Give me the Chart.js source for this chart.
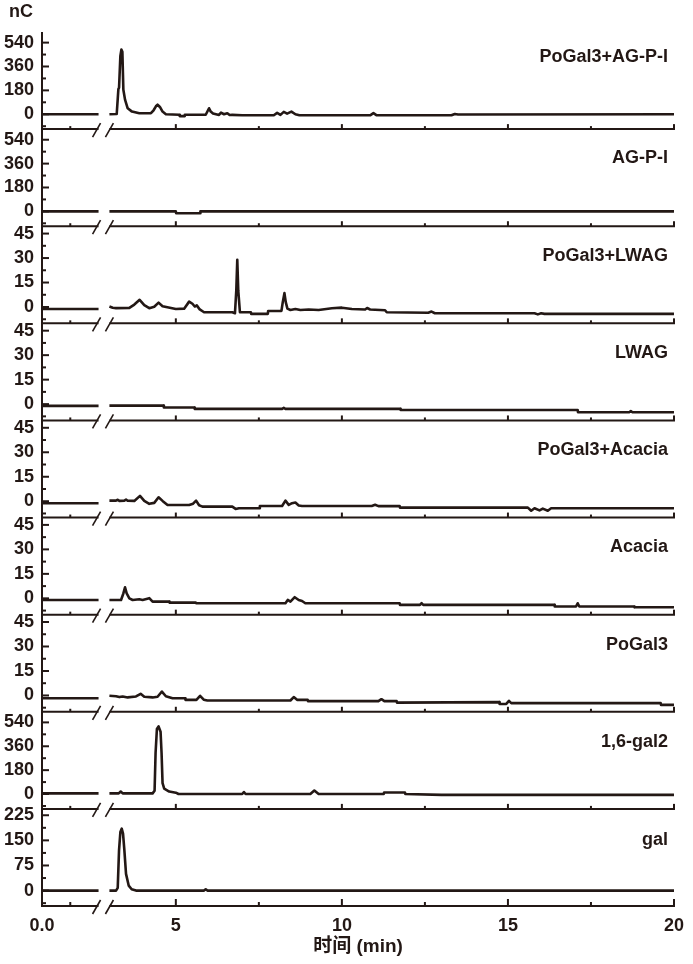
<!DOCTYPE html>
<html>
<head>
<meta charset="utf-8">
<script src="https://cdn.jsdelivr.net/npm/chart.js@4.4.1/dist/chart.umd.min.js"></script>
<style>
  html, body { margin: 0; padding: 0; background: #fff; }
  #wrap { width: 693px; height: 964px; }
</style>
</head>
<body>
<div id="wrap"><canvas id="myChart"></canvas></div>
<script>
// panels, top to bottom
const panelLabels = ['PoGal3+AG-P-I', 'AG-P-I', 'PoGal3+LWAG', 'LWAG', 'PoGal3+Acacia', 'Acacia', 'PoGal3', '1,6-gal2', 'gal'];

// trace level before the axis break (0 - 2 min)
const preBreak = [0, 0, -1.2, -1.1, -1.2, -1, -1.7, 5, 0];

// traces after the break (3 - 20 min): time (min) / signal (nC)
const tMixAGPI = [3.0, 3.22, 3.27, 3.29, 3.33, 3.36, 3.39, 3.42, 3.47, 3.55, 3.68, 3.9, 4.25, 4.33, 4.4, 4.45, 4.52, 4.6, 4.7, 5.1, 5.12, 5.25, 5.27, 5.9, 6.0, 6.05, 6.12, 6.3, 6.36, 6.45, 6.55, 6.62, 6.7, 7.0, 7.95, 8.05, 8.15, 8.25, 8.35, 8.48, 8.6, 8.72, 9.0, 10.85, 10.95, 11.05, 13.3, 13.4, 13.5, 20];
const vMixAGPI = [0, 2, 190, 200, 440, 487, 470, 185, 110, 45, 20, 8, 8, 30, 60, 72, 55, 20, 0, -4, -14, -14, -4, -4, 45, 20, 5, -5, 12, 0, 8, -6, -5, -8, -8, 10, -5, 18, 5, 20, 0, -8, -8, -8, 8, -8, -8, 2, -2, 0];

const tAGPI = [3.0, 5.0, 5.01, 5.73, 5.74, 20];
const vAGPI = [0, 0, -14, -14, 0, 0];

const tMixLWAG = [3.0, 3.1, 3.2, 3.6, 3.75, 3.91, 4.05, 4.2, 4.35, 4.48, 4.6, 5.0, 5.25, 5.4, 5.5, 5.57, 5.63, 5.72, 5.85, 6.7, 6.78, 6.82, 6.85, 6.88, 6.93, 7.26, 7.27, 7.77, 7.78, 8.18, 8.22, 8.27, 8.31, 8.36, 8.45, 8.6, 8.75, 9.0, 9.3, 9.7, 10.0, 10.3, 10.7, 10.76, 10.85, 11.3, 11.35, 12.6, 12.7, 12.8, 15.8, 15.9, 16.0, 16.1, 20];
const vMixLWAG = [0.3, -0.5, -0.7, -0.5, 1.5, 4.4, 1.2, -0.7, 0.2, 2.7, 0.5, -1.2, -1.0, 3.3, 2.0, 0.3, 1.0, -1.5, -3.2, -3.2, -3.8, 10, 28.9, 10, -3.2, -3.2, -4.2, -4.2, -2.4, -2.4, 3, 8.5, 3, -1, -1.8, -1.2, -1.8, -1.5, -1.8, -0.8, -0.4, -1.2, -1.5, -0.6, -1.5, -2.0, -3.2, -3.5, -2.8, -3.8, -3.8, -4.5, -3.8, -4.2, -4.2];

const tLWAG = [3.0, 4.63, 4.64, 5.56, 5.57, 8.2, 8.25, 8.3, 11.76, 11.77, 17.1, 17.11, 18.65, 18.7, 18.75, 20];
const vLWAG = [-0.9, -0.9, -2.1, -2.1, -2.9, -2.9, -2.3, -2.9, -2.9, -3.6, -3.6, -5, -5, -4.3, -5, -5];

const tMixAcacia = [3.0, 3.2, 3.25, 3.3, 3.45, 3.5, 3.55, 3.75, 3.92, 4.05, 4.2, 4.35, 4.48, 4.6, 4.75, 5.4, 5.52, 5.61, 5.7, 5.8, 6.7, 6.8, 6.9, 7.52, 7.53, 8.2, 8.3, 8.4, 8.5, 8.6, 8.7, 8.8, 10.9, 11.0, 11.1, 11.74, 11.75, 15.6, 15.7, 15.8, 15.95, 16.05, 16.2, 16.3, 20];
const vMixAcacia = [0.4, 0.4, 0.9, 0.2, 0.4, 1.0, 0.3, 0.2, 3.3, 0.2, -1.6, -1.0, 2.4, 0.2, -2.3, -2.3, -1.5, 0.4, -2.5, -3.3, -3.3, -4.7, -4.3, -4.3, -2.9, -2.9, 0.4, -2.2, -1.2, -0.8, -2.6, -2.9, -2.9, -2.2, -3.0, -3.0, -3.9, -3.9, -5.8, -4.3, -5.6, -4.5, -5.8, -4.3, -4.3];

const tAcacia = [3.0, 3.35, 3.42, 3.47, 3.52, 3.6, 3.7, 3.9, 4.0, 4.2, 4.3, 4.8, 4.81, 5.6, 5.61, 8.3, 8.37, 8.45, 8.58, 8.7, 8.8, 8.9, 11.74, 11.75, 12.35, 12.4, 12.45, 16.4, 16.41, 17.05, 17.1, 17.15, 18.8, 18.81, 20];
const vAcacia = [-1, -1, 3, 6.8, 3, 0, -1, -0.6, -1.0, 0.1, -2, -2, -2.6, -2.6, -3.0, -3.0, -1.0, -2.0, 0.7, -1.0, -1.6, -3.0, -3.0, -4, -4, -3, -4, -4, -5, -5, -3, -5, -5, -5.5, -5.5];

const tPoGal3 = [3.0, 3.2, 3.3, 3.4, 3.55, 3.8, 3.94, 4.05, 4.3, 4.45, 4.58, 4.7, 4.9, 5.28, 5.29, 5.62, 5.73, 5.84, 5.95, 8.45, 8.55, 8.65, 8.97, 8.98, 11.1, 11.19, 11.28, 11.65, 11.66, 14.74, 14.75, 14.95, 15.03, 15.1, 19.6, 19.61, 20];
const vPoGal3 = [-0.2, -0.5, -1.0, -0.6, -1.2, -0.6, 1.0, -0.8, -1.2, -0.8, 2.4, -0.5, -1.7, -1.7, -2.7, -2.7, -0.2, -2.6, -3.1, -3.1, -1.0, -2.7, -2.7, -3.5, -3.5, -2.3, -3.5, -3.5, -4.4, -4.1, -5.2, -5.2, -3.3, -4.7, -4.7, -5.8, -5.8];

const tGal2 = [3.0, 3.28, 3.34, 3.4, 4.3, 4.36, 4.39, 4.43, 4.48, 4.54, 4.57, 4.6, 4.65, 4.8, 5.0, 5.08, 7.0, 7.05, 7.1, 9.05, 9.17, 9.3, 11.26, 11.27, 11.9, 11.91, 13, 20];
const vGal2 = [5, 5, 19, 5, 5, 25, 311, 490, 510, 470, 311, 82, 40, 19, 10, 0, 0, 15, 0, 0, 26, 0, 0, 11, 11, 0, -6, -6];

const tGal = [3.0, 3.2, 3.25, 3.29, 3.33, 3.37, 3.41, 3.45, 3.5, 3.58, 3.67, 3.8, 5.85, 5.9, 5.95, 20];
const vGal = [0, 0, 8, 121, 175, 185, 170, 121, 50, 15, 4, 0, 0, 4, 0, 0];

const traceTimes = [tMixAGPI, tAGPI, tMixLWAG, tLWAG, tMixAcacia, tAcacia, tPoGal3, tGal2, tGal];
const traceValues = [vMixAGPI, vAGPI, vMixLWAG, vLWAG, vMixAcacia, vAcacia, vPoGal3, vGal2, vGal];

// y axes per panel
const yMin = [-112, -112, -10, -10, -10, -10, -10, -112, -46];
const yMax = [620, 620, 49.5, 49.5, 49.5, 49.5, 49.5, 620, 244];
const yStep = [90, 90, 7.5, 7.5, 7.5, 7.5, 7.5, 90, 37.5];   // minor step, labels every 2nd

// x axis
const xTicks = [5, 7.5, 10, 12.5, 15, 17.5, 20];
const xbTicks = [1];

const ink = '#231815';
const fontFamily = 'Arial, "Liberation Sans", sans-serif';
const labelDy = [25, 29, 30, 30, 30, 29, 30, 30, 31];

const isMultiple = (v, m) => Math.abs(v / m - Math.round(v / m)) < 1e-6;

const datasets = [];
panelLabels.forEach((name, i) => {
  datasets.push({
    label: name + ' (0-2)',
    data: [{ x: 0, y: preBreak[i] }, { x: 2, y: preBreak[i] }],
    xAxisID: 'xb',
    yAxisID: 'y' + i
  });
  datasets.push({
    label: name,
    data: traceTimes[i].map((t, k) => ({ x: t, y: traceValues[i][k] })),
    xAxisID: 'x',
    yAxisID: 'y' + i
  });
});

const scales = {
  x: {
    type: 'linear',
    position: 'bottom',
    min: 0.97,
    max: 20,
    grid: { display: false, drawTicks: false },
    border: { display: false },
    afterBuildTicks: s => {
      s.ticks = [{ value: s.min }].concat(xTicks.map(v => ({ value: v })));
    },
    ticks: {
      autoSkip: false,
      maxRotation: 0,
      padding: 9,
      color: ink,
      font: { family: fontFamily, size: 18, weight: 'bold' },
      callback: (v, idx) => idx === 0 ? '0.0' : (isMultiple(v, 5) ? String(v) : '')
    },
    title: {
      display: true,
      text: '时间 (min)',
      color: ink,
      font: { family: 'Arial, "Noto Sans CJK SC", sans-serif', size: 19, weight: 'bold' },
      padding: { top: 0, bottom: 6 }
    },
    afterFit: s => { s.height = 58; }
  },
  xb: {
    type: 'linear',
    axis: 'x',
    position: 'bottom',
    display: false,
    min: 0,
    max: 22.35
  }
};

panelLabels.forEach((name, i) => {
  scales['y' + i] = {
    type: 'linear',
    position: 'left',
    stack: 'panels',
    stackWeight: 1,
    weight: panelLabels.length - i,
    min: yMin[i],
    max: yMax[i],
    grid: { display: false, drawTicks: false },
    border: { display: false },
    ticks: {
      stepSize: yStep[i],
      includeBounds: false,
      autoSkip: false,
      padding: 8,
      color: ink,
      font: { family: fontFamily, size: 18, weight: 'bold' },
      callback: v => isMultiple(v, yStep[i] * 2) ? String(Math.round(v)) : ''
    },
    afterFit: s => { s.width = 42; }
  };
});

// axis lines, inward ticks, break marks and panel names
const framePlugin = {
  id: 'frame',
  afterDatasetsDraw(chart) {
    const { ctx, chartArea: a } = chart;
    const x = chart.scales.x;
    const xb = chart.scales.xb;
    const gapL = xb.getPixelForValue(2);
    const gapR = x.getPixelForValue(3);
    const seg = (x1, y1, x2, y2) => {
      ctx.beginPath();
      ctx.moveTo(x1, y1);
      ctx.lineTo(x2, y2);
      ctx.stroke();
    };

    ctx.save();
    ctx.strokeStyle = ink;
    ctx.fillStyle = ink;
    ctx.lineWidth = 2;
    seg(a.left, a.top, a.left, a.bottom + 1);

    panelLabels.forEach((name, i) => {
      const y = chart.scales['y' + i];
      y.ticks.forEach(t => {
        if (t.value < y.min || t.value > y.max) return;
        const py = y.getPixelForValue(t.value);
        seg(a.left, py, a.left + (t.label ? 7 : 4), py);
      });

      const b = y.bottom;
      const last = i === panelLabels.length - 1;
      const major = last ? 7 : 5;
      const minor = last ? 4 : 3;
      seg(a.left, b, gapL, b);
      seg(gapR, b, a.right + 1, b);
      xTicks.forEach(v => {
        const px = x.getPixelForValue(v);
        seg(px, b, px, b - (isMultiple(v, 5) ? major : minor));
      });
      xbTicks.forEach(v => {
        const px = xb.getPixelForValue(v);
        seg(px, b, px, b - minor);
      });
      ctx.lineWidth = 1.6;
      [gapL - 2, gapR].forEach(px => seg(px - 4, b + 8, px + 4, b - 6));
      ctx.lineWidth = 2;

      ctx.font = 'bold 18px ' + fontFamily;
      ctx.textAlign = 'right';
      ctx.textBaseline = 'middle';
      ctx.fillText(name, a.right - 6, y.top + labelDy[i]);
    });

    ctx.font = 'bold 18px ' + fontFamily;
    ctx.textAlign = 'center';
    ctx.textBaseline = 'middle';
    ctx.fillText('nC', 21, 12);
    ctx.restore();
  }
};

const ctx = document.getElementById('myChart').getContext('2d');
const chart = new Chart(ctx, {
  type: 'line',
  data: { datasets },
  options: {
    responsive: true,
    maintainAspectRatio: false,
    animation: false,
    layout: { padding: { top: 32, right: 14, left: 0, bottom: 0 } },
    elements: {
      line: { borderColor: ink, borderWidth: 2.6, tension: 0, fill: false, borderJoinStyle: 'round', borderCapStyle: 'butt' },
      point: { radius: 0 }
    },
    plugins: {
      legend: { display: false },
      tooltip: { enabled: false }
    },
    scales
  },
  plugins: [framePlugin]
});
</script>
</body>
</html>
